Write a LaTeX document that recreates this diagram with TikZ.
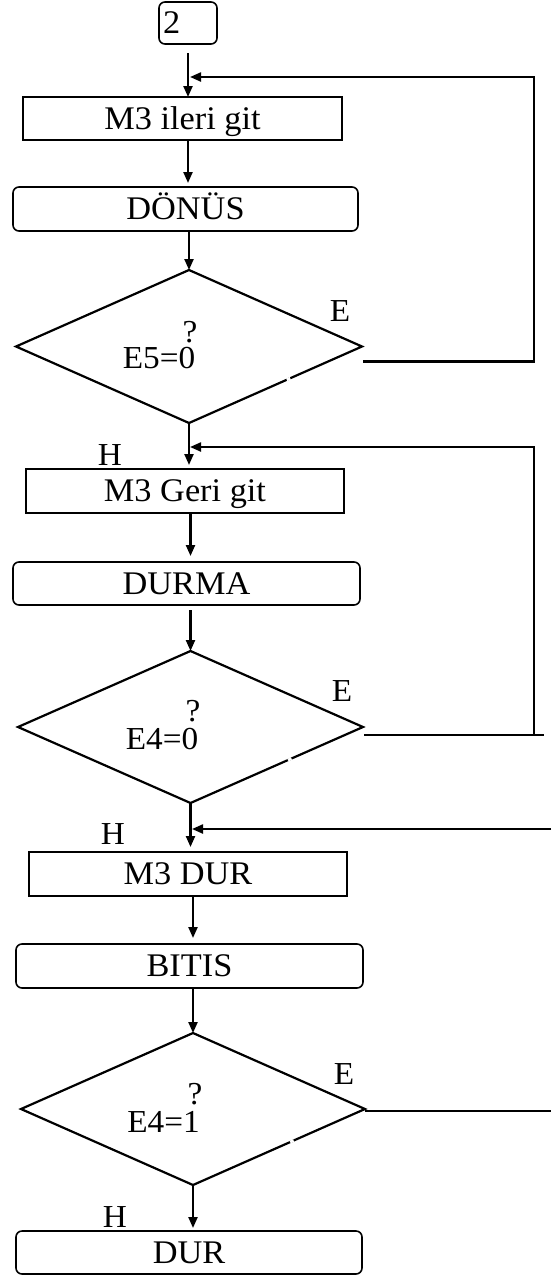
\documentclass[tikz,border=0pt]{standalone}
\usepackage{fontspec}
\setmainfont[FakeStretch=1.04]{Liberation Serif}
\usetikzlibrary{shapes.geometric,arrows.meta,calc}
\begin{document}
\begin{tikzpicture}[x=1pt,y=-1pt,
  procbox/.style={draw,line width=1.6pt,inner sep=0pt,outer sep=0pt,text height=21pt,text depth=0pt,font=\fontsize{33}{33}\selectfont},
  roundbox/.style={procbox,rounded corners=6pt},
  decision/.style={diamond,draw,line width=2.2pt,inner sep=0pt,outer sep=0pt,line join=miter},
  conn/.style={line width=2.2pt,line join=miter},
  arr/.style={conn,-{Triangle[length=11pt,width=9pt]}},
  lbl/.style={font=\fontsize{32}{32}\selectfont,inner sep=0pt,anchor=base},
  gap/.style={white,line width=2.8pt}]
\useasboundingbox (0,0) rectangle (554,1277);
\fill[white] (0,0) rectangle (554,1277);

% nodes
\node[roundbox,text width=50pt,align=left,inner xsep=4pt,minimum height=42pt] (start) at (188,23) {2};
\node[procbox,minimum width=319pt,minimum height=43pt] (a1) at (182.5,118.5) {M3 ileri git};
\node[roundbox,minimum width=345pt,minimum height=44pt] (b1) at (185.5,209) {DÖNÜS};
\node[decision,minimum width=346pt,minimum height=153pt] (d1) at (189,346.5) {};
\node[procbox,minimum width=318pt,minimum height=44pt] (a2) at (185,491) {M3 Geri git};
\node[roundbox,minimum width=347pt,minimum height=43pt] (b2) at (186.5,583.5) {DURMA};
\node[decision,minimum width=345pt,minimum height=152pt] (d2) at (190.5,727) {};
\node[procbox,minimum width=318pt,minimum height=44pt] (a3) at (188,874) {M3 DUR};
\node[roundbox,minimum width=347pt,minimum height=44pt] (b3) at (189.5,966) {BITIS};
\node[decision,minimum width=344pt,minimum height=152pt] (d3) at (193,1109) {};
\node[roundbox,minimum width=346pt,minimum height=43pt] (b4) at (189,1252.5) {DUR};

% small breaks on the diamonds' lower right edges
\draw[gap] ($(d1.east)!0.415!(d1.south)$) -- ($(d1.east)!0.435!(d1.south)$);
\draw[gap] ($(d2.east)!0.415!(d2.south)$) -- ($(d2.east)!0.435!(d2.south)$);
\draw[gap] ($(d3.east)!0.415!(d3.south)$) -- ($(d3.east)!0.435!(d3.south)$);

% texts in and by the decisions
\node[lbl] (e1) at (340,321) {E};
\node[lbl] (t1) at (159,368) {E5=0};
\node[lbl] (q1) at (190,342) {?};
\node[lbl] (h1) at (110,465) {H};
\node[lbl] (e2) at (342,701) {E};
\node[lbl] (t2) at (162,749) {E4=0};
\node[lbl] (q2) at (193,721) {?};
\node[lbl] (h2) at (113,844) {H};
\node[lbl] (e3) at (344,1084) {E};
\node[lbl] (t3) at (163.5,1132) {E4=1};
\node[lbl] (q3) at (195,1104) {?};
\node[lbl] (h3) at (115,1227) {H};

% main flow
\draw[arr,shorten <=9pt] (start.south) -- (start.south |- a1.north);
\draw[arr,shorten >=4pt] (a1.south -| start.south) -- (b1.north -| start.south);
\draw[arr] (b1.south -| d1.north) -- (d1.north);
\draw[arr,shorten >=4pt] (d1.south) -- (d1.south |- a2.north);
\draw[arr,shorten >=6pt] (a2.south -| d2.north) -- (b2.north -| d2.north);
\draw[arr,shorten <=5pt] (b2.south -| d2.north) -- (d2.north);
\draw[arr,shorten >=5pt] (d2.south) -- (d2.south |- a3.north);
\draw[arr,shorten >=6pt] (a3.south -| d3.north) -- (b3.north -| d3.north);
\draw[arr] (b3.south -| d3.north) -- (d3.north);
\draw[arr,shorten >=3pt] (d3.south) -- (d3.south |- b4.north);

% loop 1
\coordinate (j1) at (190,77);
\coordinate (c1) at (534,77);
\coordinate (d1e) at ([xshift=1pt,yshift=-15pt]d1.east);
\draw[arr] (d1e) -- (d1e -| c1) -- (c1) -- (j1);

% loop 2
\coordinate (j2) at (190,447);
\coordinate (c2) at (534,447);
\coordinate (r2) at (544,735);
\coordinate (d2e) at ([xshift=1pt,yshift=-8pt]d2.east);
\draw[conn] (d2e) -- (d2e -| r2);
\draw[arr] (d2e -| c2) -- (c2) -- (j2);

% loop 3 (open ends)
\coordinate (j3) at (192,829);
\coordinate (c3) at (551,829);
\coordinate (r3) at (551,1111);
\coordinate (d3e) at ([yshift=-2pt]d3.east);
\draw[conn] (d3e) -- (d3e -| r3);
\draw[arr] (c3) -- (j3);
\end{tikzpicture}
\end{document}
